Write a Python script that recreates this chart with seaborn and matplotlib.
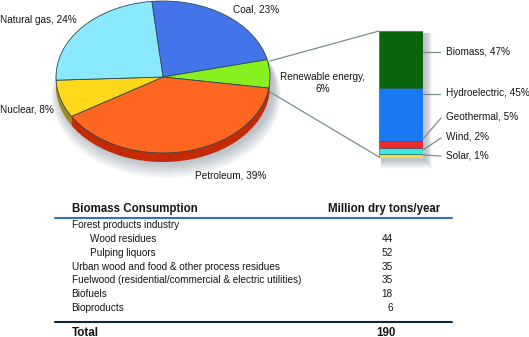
import matplotlib
matplotlib.use("Agg")
import matplotlib.pyplot as plt
from matplotlib.patches import Ellipse, Rectangle
import seaborn as sns

sns.set_theme(style="white")
plt.rcParams['font.family'] = ['Liberation Sans', 'DejaVu Sans']

W, H = 529, 337
pie_labels = ["Coal", "Renewable energy", "Petroleum", "Nuclear", "Natural gas"]
pie_values = [23, 6, 39, 8, 24]
pie_colors = ["#4474ea", "#88f01e", "#ff6622", "#ffd81a", "#8ae8ff"]
pie_side = ["#24408a", "#4c8a10", "#c42a06", "#a08a20", "#5090a0"]

bar_labels = ["Solar, 1%", "Wind, 2%", "Geothermal, 5%", "Hydroelectric, 45%", "Biomass, 47%"]
bar_heights = [3.1, 4.7, 6.0, 41.8, 44.4]   # drawn share of the column
bar_colors = ["#f0e23c", "#3ee8dc", "#f02a2a", "#1a78f2", "#0a640c"]

table_title = "Biomass Consumption"
table_unit = "Million dry tons/year"
rows = ["Forest products industry", "Wood residues", "Pulping liquors",
        "Urban wood and food & other process residues",
        "Fuelwood (residential/commercial & electric utilities)",
        "Biofuels", "Bioproducts"]
row_values = ["", "44", "52", "35", "35", "18", "6"]
total_value = "190"

fig = plt.figure(figsize=(W / 100, H / 100), dpi=100, facecolor="white")

# pie axes: unit circle maps to the ellipse of the pie's top face
cx, cy, rx, ry = 163, 77, 107, 76
axp = fig.add_axes([0, 0, 1, 1])
for k in range(12, 0, -1):
    axp.add_patch(Ellipse((0.03, -(9 + k * 0.9) / ry), 2 + k * 0.012, 2 + k * 0.012,
                          fc="#506070", ec="none", alpha=0.035))
for k in range(9, 0, -1):
    axp.pie(pie_values, colors=pie_side, startangle=96, counterclock=False,
            center=(0, -k / ry), radius=1, wedgeprops=dict(edgecolor="none", linewidth=0))
axp.pie(pie_values, colors=pie_colors, startangle=96, counterclock=False,
        wedgeprops=dict(edgecolor="#2c4a50", linewidth=0.6))
axp.set_aspect("auto")
axp.set_xlim((0 - cx) / rx, (W - cx) / rx)
axp.set_ylim((cy - H) / ry, cy / ry)
axp.axis("off")

# stacked column
bx0, bx1, by0, by1 = 379, 423, 31, 158.3
axs = fig.add_axes([0, 0, 1, 1], zorder=1)
axs.set_xlim(0, W); axs.set_ylim(H, 0); axs.axis("off"); axs.patch.set_alpha(0)
for k in range(8, 0, -1):
    axs.add_patch(Rectangle((bx0 + 2, by0 + 2), bx1 - bx0 + k * 0.9, by1 - by0 + k * 0.9,
                            fc="#506070", ec="none", alpha=0.05))

axb = fig.add_axes([bx0 / W, 1 - by1 / H, (bx1 - bx0) / W, (by1 - by0) / H], zorder=2)
bottom = 0
for h, c in zip(bar_heights, bar_colors):
    sns.barplot(x=[0], y=[h], bottom=bottom, color=c, saturation=1, width=1, ax=axb,
                edgecolor="#1c5a5a", linewidth=0.4)
    bottom += h
axb.set_xlim(-0.5, 0.5); axb.set_ylim(0, sum(bar_heights)); axb.axis("off")

# overlay in pixel coordinates
ax = fig.add_axes([0, 0, 1, 1], zorder=3)
ax.set_xlim(0, W); ax.set_ylim(H, 0); ax.axis("off"); ax.patch.set_alpha(0)
LC = "#7a8b8e"
for x, y in [((270, 379), (61, 31)), ((270, 379), (92, 157)),
             ((423, 440), (52, 52)), ((423, 440), (94, 94)),
             ((423, 441), (139, 118)), ((423, 441), (150, 138)), ((423, 441), (155, 156))]:
    ax.plot(x, y, color=LC, lw=0.9)

TC = "#151515"
fs = 7.2
def t(x, y, s, **kw):
    kw.setdefault("fontsize", fs); kw.setdefault("va", "center"); kw.setdefault("color", TC)
    ax.text(x, y, s, **kw)

t(233, 9, f"{pie_labels[0]}, {pie_values[0]}%")
t(0, 20, f"{pie_labels[4]}, {pie_values[4]}%")
t(0, 109, f"{pie_labels[3]}, {pie_values[3]}%")
t(195, 176, f"{pie_labels[2]}, {pie_values[2]}%")
t(322.5, 77, "Renewable energy,", ha="center")
t(322.5, 88.5, f"{pie_values[1]}%", ha="center")
for y, s in zip([155.5, 136.5, 116.5, 93, 52], bar_labels):
    t(445.5, y, s)

t(72.5, 209, table_title, fontweight="bold", fontsize=8.3)
t(440.5, 209, table_unit, fontweight="bold", fontsize=8.3, ha="right")
ax.plot([55, 452], [218, 218], color="#2f6fc4", lw=1.5)
row_y = [225.5, 238.5, 252.5, 266.5, 280, 294, 308]
row_x = [71.5, 90, 90.5, 71.5, 71.5, 71, 71]
for x, y, s, v in zip(row_x, row_y, rows, row_values):
    t(x, y, s)
    if v:
        t(392.7, y, v, ha="right")
ax.plot([55, 452], [321.7, 321.7], color="#0c2a36", lw=1.5)
t(71.5, 332.5, "Total", fontweight="bold", fontsize=8.4)
t(396, 332.5, total_value, fontweight="bold", fontsize=8.4, ha="right")

fig.savefig("out.png", dpi=100)
